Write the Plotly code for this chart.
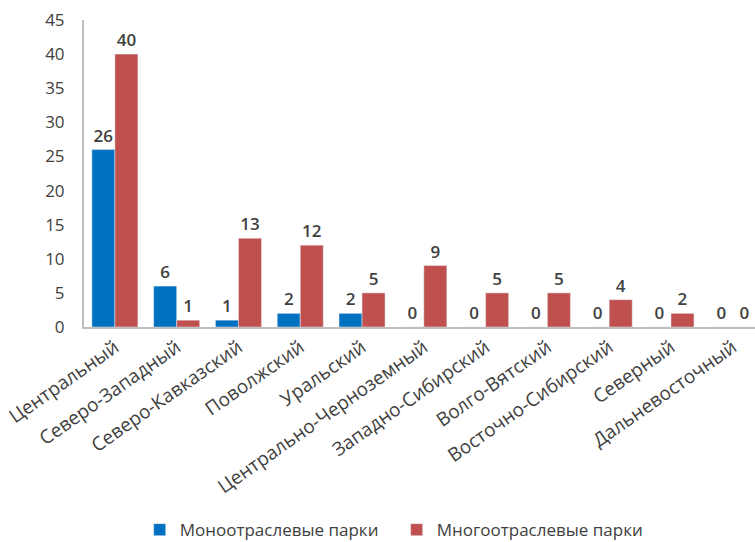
import plotly.graph_objects as go

regions = ["Центральный", "Северо-Западный", "Северо-Кавказский", "Поволжский",
           "Уральский", "Центрально-Черноземный", "Западно-Сибирский",
           "Волго-Вятский", "Восточно-Сибирский", "Северный", "Дальневосточный"]
mono_parks = [26, 6, 1, 2, 2, 0, 0, 0, 0, 0, 0]
multi_parks = [40, 1, 13, 12, 5, 9, 5, 5, 4, 2, 0]

FONT = "Open Sans"
TEXT = "#404040"

label_font = dict(family=FONT, size=17, color=TEXT, weight=600)

fig = go.Figure()
fig.add_trace(go.Bar(
    x=regions, y=mono_parks, name="Моноотраслевые парки",
    marker=dict(color="#0070C0"),
    text=mono_parks, textposition="outside", cliponaxis=False,
    textfont=label_font,
))
fig.add_trace(go.Bar(
    x=regions, y=multi_parks, name="Многоотраслевые парки",
    marker=dict(color="#C0504D"),
    text=multi_parks, textposition="outside", cliponaxis=False,
    textfont=label_font,
))

fig.update_layout(
    width=755, height=542,
    margin=dict(l=84, r=0, t=20, b=215, autoexpand=False),
    paper_bgcolor="white", plot_bgcolor="white",
    barmode="group", bargap=0.255, bargroupgap=0,
    font=dict(family=FONT, color=TEXT, size=17),
    showlegend=True,
    legend=dict(orientation="h", x=0.466, xanchor="center",
                yref="container", y=0.022, yanchor="middle",
                font=dict(size=17, color=TEXT), itemwidth=30,
                entrywidth=212, entrywidthmode="pixels",
                traceorder="normal"),
    uniformtext=dict(mode=False),
)
# the category axis runs slightly past the right edge of the page
fig.update_xaxes(
    range=[-0.5, 10.36],
    tickangle=-35, showline=True, linecolor="#BFBFBF", linewidth=2,
    ticks="", showgrid=False, tickfont=dict(size=19, color=TEXT),
    automargin=False,
)
fig.update_yaxes(
    range=[0, 45], dtick=5, showline=True, linecolor="#BFBFBF", linewidth=2,
    ticks="", showgrid=False, zeroline=False, ticklabelstandoff=14,
    tickfont=dict(size=17, color=TEXT), automargin=False,
)

fig.write_html("out.html")
